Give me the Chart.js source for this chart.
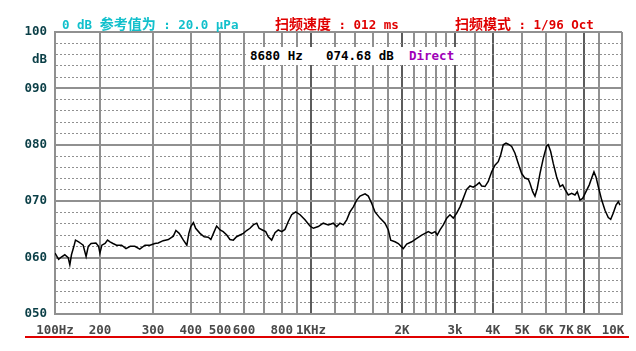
<!DOCTYPE html>
<html>
<head>
  <meta charset="utf-8">
  <title>Sweep response</title>
  <script src="https://cdn.jsdelivr.net/npm/chart.js"></script>
  <style>
    body { margin: 0; background: #fff; }
    .wrap { position: relative; width: 636px; height: 351px; }
    .mono { font-family: 'DejaVu Sans Mono', monospace; font-weight: bold; font-size: 12.5px; }
    .cjk { font-family: 'Noto Sans CJK SC', sans-serif; font-weight: bold; font-size: 14px; }
    .hdr { position: absolute; top: 14px; line-height: 18px; white-space: pre; }
    .cursor { position: absolute; left: 246px; top: 47px; width: 212px; height: 18px; background: #fff; }
    .cursor span { position: absolute; top: 0; line-height: 18px; white-space: pre; }
    .redline { position: absolute; left: 25px; top: 336px; width: 604px; height: 2px; background: #e00000; }
  </style>
</head>
<body>
<div class="wrap">
  <canvas id="resp" width="636" height="351"></canvas>

  <div class="hdr mono" style="left:62px; color:#12c0cc;">0 dB <span class="cjk">参考值为</span> : 20.0 μPa</div>
  <div class="hdr mono" style="left:275px; color:#e00000;"><span class="cjk">扫频速度</span> : 012 ms</div>
  <div class="hdr mono" style="left:455px; color:#e00000;"><span class="cjk">扫频模式</span> : 1/96 Oct</div>

  <div class="cursor mono">
    <span style="left:4px; color:#000;">8680 Hz</span>
    <span style="left:80px; color:#000;">074.68 dB</span>
    <span style="left:163px; color:#a000b8;">Direct</span>
  </div>
  <div class="redline"></div>
</div>

<script>
  // frequency response (Hz, dB)
  const freqHz = [
    142, 146, 149, 153, 157, 159, 161, 164, 166, 170, 173, 176, 180, 183, 187, 194, 198,
    200, 203, 208, 212, 216, 221, 227, 236, 244, 252, 261, 271, 282, 293, 304, 312, 324,
    337, 350, 357, 366, 378, 388, 394, 400, 408, 415, 429, 443, 457, 466, 478, 487, 500,
    512, 526, 539, 553, 567, 582, 597, 612, 628, 644, 661, 673, 690, 708, 722, 741, 760,
    779, 800, 820, 841, 863, 890, 920, 955, 992, 1018, 1057, 1098, 1141, 1185, 1216, 1247,
    1279, 1313, 1346, 1381, 1417, 1453, 1510, 1548, 1589, 1629, 1692, 1758, 1803, 1836,
    1897, 1946, 2021, 2074, 2155, 2239, 2326, 2385, 2446, 2510, 2574, 2619, 2674, 2742,
    2814, 2885, 2959, 3037, 3114, 3193, 3277, 3361, 3446, 3537, 3608, 3674, 3768, 3863,
    3965, 4066, 4169, 4246, 4331, 4422, 4500, 4618, 4736, 4856, 4984, 5111, 5241, 5309,
    5420, 5516, 5613, 5730, 5876, 6030, 6104, 6217, 6341, 6508, 6674, 6813, 6933, 7110,
    7297, 7483, 7615, 7774, 7935, 8138, 8345, 8499, 8649, 8783, 8938, 9173, 9407, 9646,
    9826, 10023, 10231, 10413, 10549
  ];
  const levelDb = [
    60.8, 59.7, 60.1, 60.5, 60.0, 58.7, 60.5, 62.0, 63.1, 62.8, 62.5, 62.2, 60.2, 62.0, 62.5, 62.6, 62.0,
    60.8, 62.2, 62.5, 63.1, 62.8, 62.5, 62.2, 62.2, 61.6, 62.0, 62.0, 61.5, 62.2, 62.2, 62.5, 62.6, 63.0,
    63.2, 63.8, 64.8, 64.3, 63.1, 62.2, 64.3, 65.5, 66.2, 65.2, 64.3, 63.7, 63.6, 63.2, 64.6, 65.6, 64.9,
    64.6, 64.0, 63.2, 63.1, 63.7, 64.0, 64.3, 64.8, 65.2, 65.8, 66.1, 65.2, 64.9, 64.6, 63.7, 63.1, 64.4,
    64.9, 64.6, 65.0, 66.4, 67.6, 68.1, 67.6, 66.7, 65.6, 65.2, 65.5, 66.1, 65.8, 66.1, 65.5, 66.1,
    65.8, 66.7, 68.1, 69.0, 70.2, 70.9, 71.3, 70.9, 69.6, 68.1, 67.0, 66.1, 64.9, 63.1,
    62.8, 62.5, 61.6, 62.4, 62.8, 63.4, 64.0, 64.3, 64.6, 64.3, 64.6, 64.0, 64.9, 65.8,
    67.0, 67.6, 67.0, 67.9, 69.0, 70.5, 72.1, 72.7, 72.5, 72.9, 73.3, 72.7, 72.6, 73.5,
    75.2, 76.4, 77.0, 78.2, 80.0, 80.3, 80.1, 79.7, 78.5, 76.7, 74.9, 74.1, 73.9, 73.2,
    71.7, 70.9, 72.3, 74.9, 77.6, 79.8, 80.0, 78.8, 76.7, 74.3, 72.6, 72.9, 72.1, 71.1,
    71.4, 71.1, 71.7, 70.2, 70.5, 71.7, 72.9, 74.1, 75.2, 74.3, 72.6, 70.2, 68.4, 67.1,
    66.8, 67.9, 69.3, 69.9, 69.3
  ];

  // x axis grid positions and the labels printed under them
  const freqGrid = [142, 200, 300, 400, 500, 600, 700, 800, 900, 1000, 1200, 1400, 1600, 1800,
    2000, 2200, 2400, 2600, 2800, 3000, 3500, 4000, 5000, 6000, 7000, 8000, 9000, 10000, 10710];
  const freqLabels = {142: '100Hz', 200: '200', 300: '300', 400: '400', 500: '500', 600: '600',
    800: '800', 1000: '1KHz', 2000: '2K', 3000: '3k', 4000: '4K', 5000: '5K', 6000: '6K',
    7000: '7K', 8000: '8K', 10000: '10K'};
  const darkLines = [1000, 2000, 3000, 4000, 8000];

  // y axis: solid every 10 dB, dotted every 2 dB
  const dbGrid = [50, 52, 54, 56, 58, 60, 62, 64, 66, 68, 70, 72, 74, 76, 78, 80,
    82, 84, 86, 88, 90, 92, 94, 95, 96, 98, 100];

  const points = freqHz.map((f, i) => ({x: f, y: levelDb[i]}));
  const tickFont = {family: 'DejaVu Sans Mono', size: 12.5, weight: 'bold'};

  new Chart(document.getElementById('resp'), {
    type: 'line',
    data: {
      datasets: [{
        data: points,
        borderColor: '#000',
        borderWidth: 1.5,
        pointRadius: 0,
        tension: 0,
        fill: false
      }]
    },
    options: {
      responsive: false,
      animation: false,
      devicePixelRatio: 1,
      layout: {padding: {left: 0, right: 14, top: 32, bottom: 0}},
      plugins: {legend: {display: false}, tooltip: {enabled: false}},
      scales: {
        x: {
          type: 'logarithmic',
          min: 142,
          max: 10710,
          afterBuildTicks: s => { s.ticks = freqGrid.map(v => ({value: v})); },
          afterFit: s => { s.height = 37; },
          ticks: {
            autoSkip: false, maxRotation: 0, minRotation: 0, padding: 9,
            color: '#4a4a4a', font: tickFont,
            callback: v => freqLabels[v] || ''
          },
          grid: {
            drawTicks: false,
            color: c => {
              const v = c.tick.value;
              if (v === 10000) return 'rgba(0,0,0,0)';
              return darkLines.includes(v) ? '#5c5c5c' : '#909090';
            },
            lineWidth: 2
          },
          border: {color: '#909090', width: 2}
        },
        y: {
          min: 50,
          max: 100,
          afterBuildTicks: s => { s.ticks = dbGrid.map(v => ({value: v})); },
          afterFit: s => { s.width = 55; },
          ticks: {
            autoSkip: false, padding: 8,
            color: '#0b3f47', font: tickFont,
            callback: v => v === 95 ? 'dB' : (v % 10 === 0 ? String(v).padStart(3, '0') : '')
          },
          grid: {
            drawTicks: false,
            color: c => {
              const v = c.tick ? c.tick.value : 0;
              if (v === 95) return 'rgba(0,0,0,0)';
              return '#909090';
            },
            lineWidth: c => (c.tick && c.tick.value % 10 === 0) ? 2 : 1
          },
          border: {
            color: '#909090', width: 2,
            dash: c => (c.tick && c.tick.value % 10 !== 0) ? [2, 2] : []
          }
        }
      }
    }
  });
</script>
</body>
</html>
